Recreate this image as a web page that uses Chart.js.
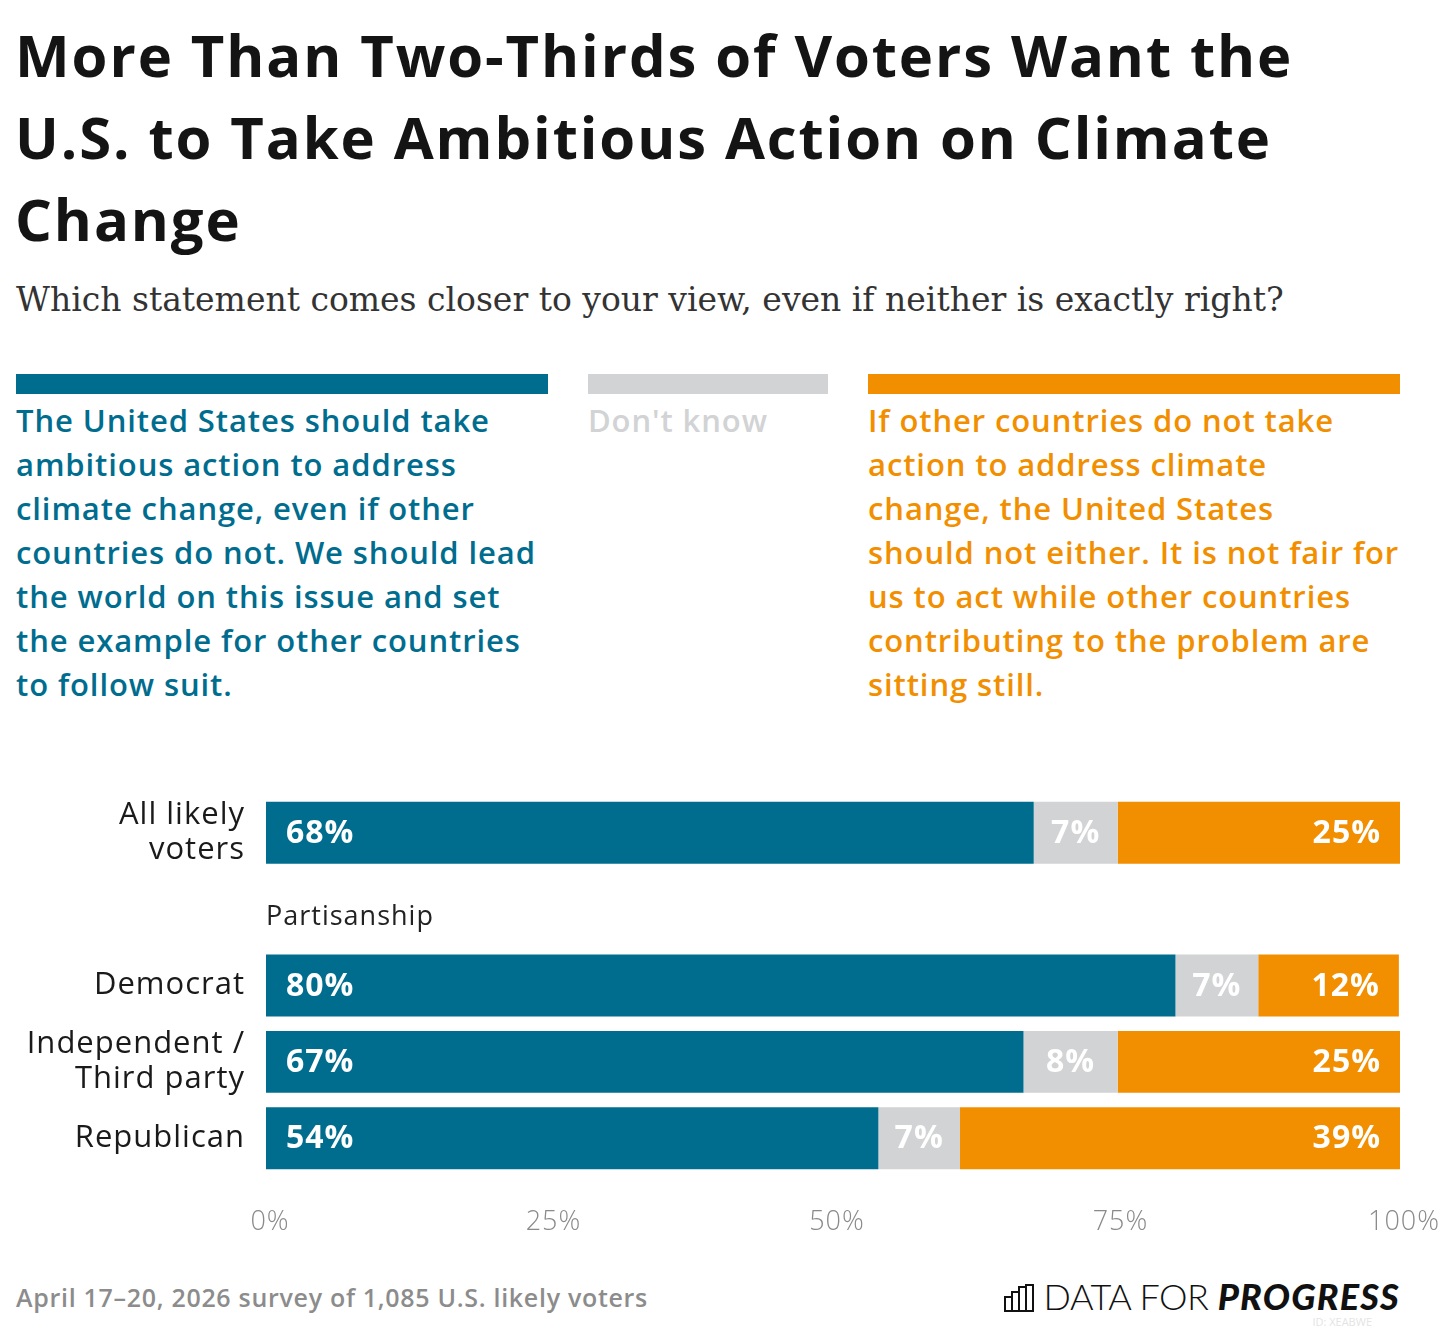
<!DOCTYPE html>
<html>
<head>
<meta charset="utf-8">
<script src="https://cdn.jsdelivr.net/npm/chart.js@4.4.1/dist/chart.umd.min.js"></script>
<style>
    body { margin: 0; background: #fff; width: 1440px; height: 1330px; position: relative; overflow: hidden; font-family: "Open Sans", Lato, sans-serif; }
    .abs { position: absolute; white-space: nowrap; }
    #title { left: 15px; top: 14px; font-size: 58px; line-height: 82px; font-weight: 700; color: #141414; letter-spacing: 1.9px; }
    #subtitle { left: 16px; top: 280px; font-family: "DejaVu Serif", serif; font-size: 33px; line-height: 40px; color: #333; letter-spacing: 0px; }
    .key-bar { position: absolute; top: 374px; height: 20px; }
    .key-text { position: absolute; top: 398px; font-size: 31px; line-height: 44px; font-weight: 600; white-space: nowrap; letter-spacing: 0.9px; }
    #chart-wrap { position: absolute; left: 0; top: 780px; width: 1440px; height: 470px; }
    #note { left: 16px; top: 1282px; font-size: 25px; line-height: 30px; font-weight: 600; color: #8c8c8c; letter-spacing: 0.7px; }
    #logo { right: 40px; top: 1276px; font-size: 36px; line-height: 40px; color: #111; font-family: Lato, sans-serif; }
    #logo .thin { font-weight: 300; letter-spacing: -0.5px; }
    #logo .bold { font-weight: 900; font-style: italic; letter-spacing: 1.2px; }
    #chart-id { right: 68px; top: 1314px; font-size: 11px; color: #e4e4e4; }
</style>
</head>
<body>
<div id="title" class="abs">More Than Two-Thirds of Voters Want the<br>U.S. to Take Ambitious Action on Climate<br>Change</div>
<div id="subtitle" class="abs">Which statement comes closer to your view, even if neither is exactly right?</div>

<div class="key-bar" style="left:16px; width:532px; background:#006d8f"></div>
<div class="key-bar" style="left:588px; width:240px; background:#d1d3d4"></div>
<div class="key-bar" style="left:868px; width:532px; background:#f28f00"></div>
<div class="key-text" style="left:16px; color:#006d8f">The United States should take<br>ambitious action to address<br>climate change, even if other<br>countries do not. We should lead<br>the world on this issue and set<br>the example for other countries<br>to follow suit.</div>
<div class="key-text" style="left:588px; color:#d1d3d4">Don't know</div>
<div class="key-text" style="left:868px; color:#f28f00">If other countries do not take<br>action to address climate<br>change, the United States<br>should not either. It is not fair for<br>us to act while other countries<br>contributing to the problem are<br>sitting still.</div>

<div id="chart-wrap"><canvas id="chart"></canvas></div>

<div id="note" class="abs">April 17–20, 2026 survey of 1,085 U.S. likely voters</div>
<div id="logo" class="abs">
    <svg width="30" height="28" viewBox="0 0 30 28" style="vertical-align:-2px; margin-right:10px">
        <g fill="none" stroke="#111" stroke-width="2">
            <rect x="1" y="13" width="7" height="14"/>
            <rect x="8" y="8" width="7" height="19"/>
            <rect x="15" y="3" width="7" height="24"/>
            <rect x="22" y="1" width="7" height="26"/>
        </g>
    </svg><span class="thin">DATA FOR </span><span class="bold">PROGRESS</span>
</div>
<div id="chart-id" class="abs">ID: XEABWE</div>

<script>
// Données
const categories = [['All likely', 'voters'], '', 'Democrat', ['Independent /', 'Third party'], 'Republican'];
const leadValues = [67.7, null, 80.2, 66.8, 54.0];
const dontKnowValues = [7.4, null, 7.3, 8.3, 7.2];
const notEitherValues = [24.9, null, 12.4, 24.9, 38.8];
const xTicks = [0, 25, 50, 75, 100];
const sectionLabel = 'Partisanship';

const TEAL = '#006d8f';
const GREY = '#d1d3d4';
const ORANGE = '#f28f00';
const FONT = '"Open Sans", sans-serif';

/* Espacement des lettres sur tout le canvas */
const spacing = {
    id: 'spacing',
    beforeLayout(chart) { chart.ctx.letterSpacing = '1px'; },
    beforeDraw(chart) { chart.ctx.letterSpacing = '1px'; }
};

/* Etiquettes blanches dans les barres */
const barLabels = {
    id: 'barLabels',
    afterDatasetsDraw(chart) {
        const ctx = chart.ctx;
        ctx.save();
        ctx.fillStyle = '#fff';
        ctx.font = '700 32px ' + FONT;
        ctx.textBaseline = 'middle';
        chart.data.datasets.forEach((ds, i) => {
            chart.getDatasetMeta(i).data.forEach((bar, j) => {
                const v = ds.data[j];
                if (v == null) return;
                const txt = Math.round(v) + '%';
                if (i === 0) {
                    ctx.textAlign = 'left';
                    ctx.fillText(txt, bar.base + 20, bar.y + 1);
                } else if (i === 1) {
                    ctx.textAlign = 'center';
                    ctx.fillText(txt, (bar.base + bar.x) / 2, bar.y + 1);
                } else {
                    ctx.textAlign = 'right';
                    ctx.fillText(txt, bar.x - 19, bar.y + 1);
                }
            });
        });
        ctx.restore();
    }
};

/* Titre de section "Partisanship" */
const sectionTitle = {
    id: 'sectionTitle',
    afterDraw(chart) {
        const ctx = chart.ctx;
        const y = chart.scales.y.getPixelForValue(1);
        ctx.save();
        ctx.fillStyle = '#222';
        ctx.font = '400 27px ' + FONT;
        ctx.textAlign = 'left';
        ctx.textBaseline = 'middle';
        ctx.fillText(sectionLabel, chart.chartArea.left, y + 8);
        ctx.restore();
    }
};

new Chart(document.getElementById('chart'), {
    type: 'bar',
    data: {
        labels: categories,
        datasets: [
            { label: 'Lead', data: leadValues, backgroundColor: TEAL },
            { label: "Don't know", data: dontKnowValues, backgroundColor: GREY },
            { label: 'Not either', data: notEitherValues, backgroundColor: ORANGE }
        ]
    },
    options: {
        indexAxis: 'y',
        responsive: true,
        maintainAspectRatio: false,
        animation: false,
        layout: { padding: { top: 14.5, right: 40, left: 0, bottom: 0 } },
        datasets: { bar: { barPercentage: 0.81, categoryPercentage: 1, borderWidth: 0 } },
        plugins: {
            legend: { display: false },
            tooltip: { enabled: false }
        },
        scales: {
            x: {
                stacked: true,
                min: 0,
                max: 100,
                afterBuildTicks: (scale) => { scale.ticks = xTicks.map(v => ({ value: v })); },
                afterFit: (scale) => {
                    scale.height = 73.5;
                    scale.paddingLeft = 0;
                    scale.paddingRight = 0;
                },
                grid: { display: false, drawTicks: false },
                border: { display: false },
                ticks: {
                    padding: 30,
                    labelOffset: 4,
                    color: '#8a8a8a',
                    font: { family: FONT, size: 27, weight: '300' },
                    callback: (v) => v + '%'
                }
            },
            y: {
                stacked: true,
                afterFit: (scale) => {
                    scale.width = 266;
                    scale.paddingTop = 0;
                    scale.paddingBottom = 0;
                },
                grid: { display: false, drawTicks: false },
                border: { display: false },
                ticks: {
                    autoSkip: false,
                    padding: 21,
                    color: '#1a1a1a',
                    font: { family: FONT, size: 31, weight: '400', lineHeight: 1.13 }
                }
            }
        }
    },
    plugins: [spacing, barLabels, sectionTitle]
});
</script>
</body>
</html>
